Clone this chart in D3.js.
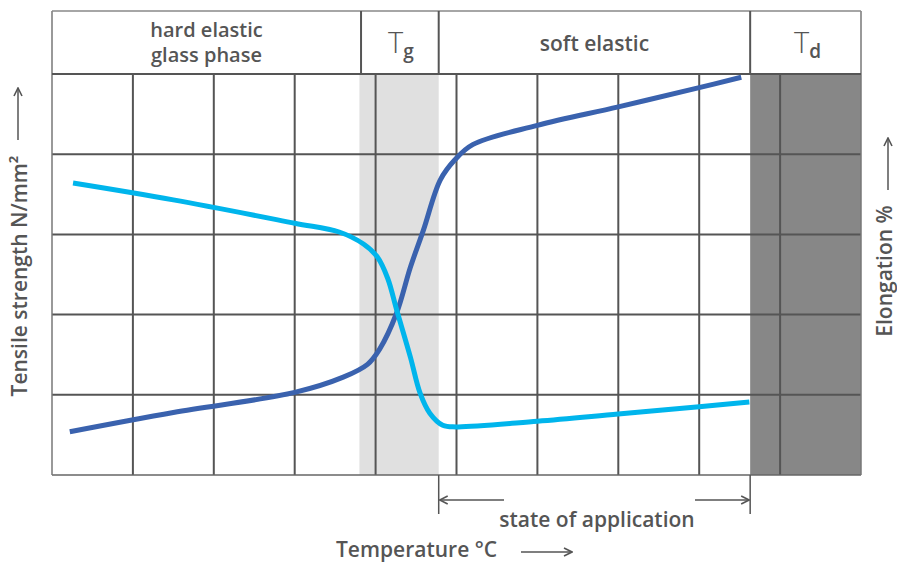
<!DOCTYPE html>
<html>
<head>
<meta charset="utf-8">
<script src="https://cdn.jsdelivr.net/npm/d3@7"></script>
<style>
  body { margin: 0; background: #fff; }
  text { font-family: "Open Sans", "Lato", sans-serif; fill: #555; }
</style>
</head>
<body>
<svg id="chart" width="897" height="563"></svg>
<script>
// temperature axis is in grid columns (0..10), strength / elongation in grid rows (0..5)
const colTicks = [0, 1, 2, 3, 4, 5, 6, 7, 8, 9, 10];
const rowTicks = [0, 1, 2, 3, 4, 5];

// glass transition and decomposition zones
const tgZone = [3.8, 4.78];
const tdZone = [8.63, 10];

// header cells: [from, to, label]
const headerCells = [
  [0, 3.82, ["hard elastic", "glass phase"]],
  [3.82, 4.78, null],
  [4.78, 8.63, ["soft elastic"]],
  [8.63, 10, null]
];

// tensile strength curve (dark blue)
const tensileX = [0.22, 1.5, 3.0, 3.6, 3.9, 4.05, 4.26, 4.43, 4.59, 4.80, 4.98, 5.2, 6.0, 7.0, 8.0, 8.52];
const tensileY = [0.54, 0.78, 1.03, 1.22, 1.38, 1.57, 2.02, 2.59, 3.05, 3.68, 3.93, 4.12, 4.36, 4.59, 4.83, 4.96];

// elongation curve (light blue)
const elongX = [0.26, 1.5, 3.0, 3.55, 3.85, 4.02, 4.15, 4.26, 4.43, 4.55, 4.67, 4.83, 5.0, 6.0, 7.0, 8.0, 8.62];
const elongY = [3.64, 3.43, 3.14, 3.03, 2.88, 2.72, 2.45, 2.06, 1.47, 1.02, 0.77, 0.62, 0.60, 0.67, 0.76, 0.85, 0.91];

const svg = d3.select('#chart');
const x = d3.scaleLinear().domain([0, 10]).range([52, 861]);
const y = d3.scaleLinear().domain([0, 5]).range([475, 74]);
const headTop = 11;
const fs = 21;

svg.append('defs').append('marker')
    .attr('id', 'arrow').attr('viewBox', '0 0 10 10')
    .attr('refX', 9).attr('refY', 5)
    .attr('markerWidth', 10).attr('markerHeight', 10)
    .attr('markerUnits', 'userSpaceOnUse')
    .attr('orient', 'auto')
  .append('path')
    .attr('d', 'M1,1 L9,5 L1,9')
    .attr('fill', 'none').attr('stroke', '#555').attr('stroke-width', 1.6);

// zones
svg.append('rect')
    .attr('x', x(tgZone[0])).attr('y', y(5))
    .attr('width', x(tgZone[1]) - x(tgZone[0])).attr('height', y(0) - y(5))
    .attr('fill', '#e0e0e0');
svg.append('rect')
    .attr('x', x(tdZone[0])).attr('y', y(5))
    .attr('width', x(tdZone[1]) - x(tdZone[0])).attr('height', y(0) - y(5))
    .attr('fill', '#878787');

// grid
svg.append('g').selectAll('line').data(colTicks.slice(1, -1))
  .enter().append('line')
    .attr('x1', d => x(d)).attr('x2', d => x(d))
    .attr('y1', y(5)).attr('y2', y(0))
    .attr('stroke', '#555').attr('stroke-width', 2);
svg.append('g').selectAll('line').data(rowTicks.slice(1, -1))
  .enter().append('line')
    .attr('x1', x(0)).attr('x2', x(10))
    .attr('y1', d => y(d)).attr('y2', d => y(d))
    .attr('stroke', '#555').attr('stroke-width', 2);

// outer frame
svg.append('line').attr('x1', x(0)).attr('x2', x(10)).attr('y1', y(0)).attr('y2', y(0))
    .attr('stroke', '#666').attr('stroke-width', 1.5);
svg.append('line').attr('x1', x(0)).attr('x2', x(0)).attr('y1', headTop).attr('y2', y(0))
    .attr('stroke', '#777').attr('stroke-width', 1.5);
svg.append('line').attr('x1', x(10)).attr('x2', x(10)).attr('y1', headTop).attr('y2', y(0))
    .attr('stroke', '#777').attr('stroke-width', 1.5);
svg.append('line').attr('x1', x(0)).attr('x2', x(10)).attr('y1', headTop).attr('y2', headTop)
    .attr('stroke', '#888').attr('stroke-width', 1.5);
svg.append('line').attr('x1', x(0)).attr('x2', x(10)).attr('y1', y(5)).attr('y2', y(5))
    .attr('stroke', '#555').attr('stroke-width', 2);

// header cells
const head = svg.append('g');
head.selectAll('line').data(headerCells.slice(1))
  .enter().append('line')
    .attr('x1', d => x(d[0])).attr('x2', d => x(d[0]))
    .attr('y1', headTop).attr('y2', y(5))
    .attr('stroke', '#555').attr('stroke-width', 2);
headerCells.forEach(c => {
  if (!c[2]) return;
  const cx = (x(c[0]) + x(c[1])) / 2;
  if (c[2].length === 2) {
    head.append('text').attr('x', cx).attr('y', 37).attr('text-anchor', 'middle')
        .attr('font-size', 20).attr('font-weight', 600).text(c[2][0]);
    head.append('text').attr('x', cx).attr('y', 62).attr('text-anchor', 'middle')
        .attr('font-size', 20).attr('font-weight', 600).text(c[2][1]);
  } else {
    head.append('text').attr('x', cx).attr('y', 51).attr('text-anchor', 'middle')
        .attr('font-size', fs).attr('font-weight', 600).text(c[2][0]);
  }
});

function tLabel(cx, sub) {
  const t = head.append('text').attr('x', cx).attr('y', 53).attr('text-anchor', 'middle');
  t.append('tspan').attr('font-size', 29).attr('font-weight', 300).text('T');
  t.append('tspan').attr('font-size', 19).attr('font-weight', 600).attr('dy', 5).text(sub);
}
tLabel((x(headerCells[1][0]) + x(headerCells[1][1])) / 2 + 1, 'g');
tLabel((x(tdZone[0]) + x(tdZone[1])) / 2 + 2, 'd');

// curves
const line = d3.line().x(d => x(d[0])).y(d => y(d[1])).curve(d3.curveCatmullRom.alpha(0.5));
svg.append('path')
    .datum(tensileX.map((v, i) => [v, tensileY[i]]))
    .attr('d', line).attr('fill', 'none')
    .attr('stroke', '#3a62ae').attr('stroke-width', 5);
svg.append('path')
    .datum(elongX.map((v, i) => [v, elongY[i]]))
    .attr('d', line).attr('fill', 'none')
    .attr('stroke', '#00b5ec').attr('stroke-width', 5);

// state of application
const appL = x(tgZone[1]), appR = x(tdZone[0]);
[appL, appR].forEach(px => {
  svg.append('line').attr('x1', px).attr('x2', px).attr('y1', y(0)).attr('y2', 514)
      .attr('stroke', '#555').attr('stroke-width', 1.5);
});
svg.append('line').attr('x1', 504).attr('x2', appL + 1).attr('y1', 500).attr('y2', 500)
    .attr('stroke', '#555').attr('stroke-width', 1.5).attr('marker-end', 'url(#arrow)');
svg.append('line').attr('x1', 695).attr('x2', appR - 1).attr('y1', 500).attr('y2', 500)
    .attr('stroke', '#555').attr('stroke-width', 1.5).attr('marker-end', 'url(#arrow)');
svg.append('text').attr('x', 597).attr('y', 527).attr('text-anchor', 'middle')
    .attr('font-size', fs).attr('font-weight', 600).text('state of application');

// axis titles
svg.append('text').attr('x', 336).attr('y', 557)
    .attr('font-size', fs).attr('font-weight', 600).text('Temperature °C');
svg.append('line').attr('x1', 521).attr('x2', 572).attr('y1', 552).attr('y2', 552)
    .attr('stroke', '#555').attr('stroke-width', 1.5).attr('marker-end', 'url(#arrow)');

svg.append('text').attr('transform', 'translate(27,276) rotate(-90)')
    .attr('text-anchor', 'middle').attr('font-size', fs).attr('font-weight', 600)
    .text('Tensile strength N/mm²');
svg.append('line').attr('x1', 18).attr('x2', 18).attr('y1', 140).attr('y2', 88)
    .attr('stroke', '#555').attr('stroke-width', 1.5).attr('marker-end', 'url(#arrow)');

svg.append('text').attr('transform', 'translate(892,271) rotate(-90)')
    .attr('text-anchor', 'middle').attr('font-size', fs).attr('font-weight', 600)
    .text('Elongation %');
svg.append('line').attr('x1', 888).attr('x2', 888).attr('y1', 190).attr('y2', 138)
    .attr('stroke', '#555').attr('stroke-width', 1.5).attr('marker-end', 'url(#arrow)');
</script>
</body>
</html>
